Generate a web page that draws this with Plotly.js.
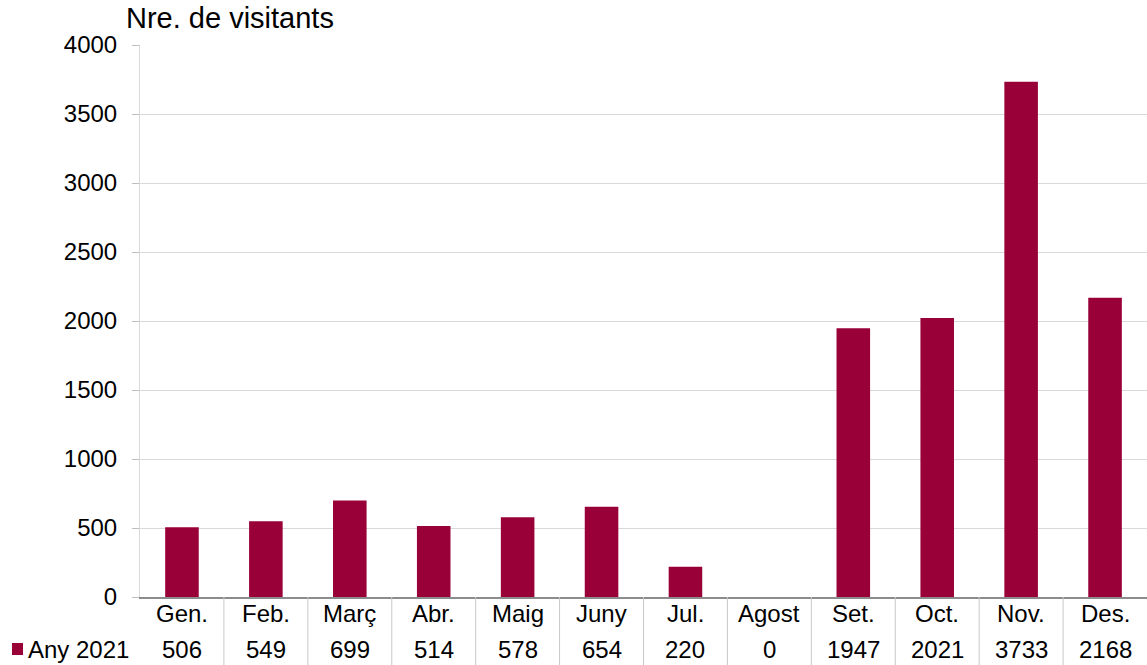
<!DOCTYPE html>
<html>
<head>
<meta charset="utf-8">
<script src="https://cdn.plot.ly/plotly-3.0.1.min.js"></script>
<style>html,body{margin:0;padding:0;background:#fff;}#chart{width:1147px;height:665px;}</style>
</head>
<body>
<div id="chart"></div>
<script>
const months = ["Gen.", "Feb.", "Març", "Abr.", "Maig", "Juny", "Jul.", "Agost", "Set.", "Oct.", "Nov.", "Des."];
const visitors2021 = [506, 549, 699, 514, 578, 654, 220, 0, 1947, 2021, 3733, 2168];
const seriesName = "Any 2021";
const yTitle = "Nre. de visitants";
const yTicks = [0, 500, 1000, 1500, 2000, 2500, 3000, 3500, 4000];

const W = 1147, H = 665;
const mL = 140, mR = 0, mT = 45, mB = 68;
const pw = W - mL - mR, ph = H - mT - mB;
const py = (pix) => (H - mB - pix) / ph;   // page y -> paper y
const px = (pix) => (pix - mL) / pw;       // page x -> paper x

const barColor = "#990038";
const font = "Liberation Sans, Arial, sans-serif";
const fs = 24;
const idx = months.map((m, i) => i);

const annotations = [];
months.forEach((m, i) => {
  annotations.push({x: i, xref: "x", y: py(613), yref: "paper", text: m, showarrow: false,
    xanchor: "center", yanchor: "middle", font: {family: font, size: fs, color: "#000"}});
  annotations.push({x: i, xref: "x", y: py(649), yref: "paper", text: String(visitors2021[i]), showarrow: false,
    xanchor: "center", yanchor: "middle", font: {family: font, size: fs, color: "#000"}});
});
annotations.push({x: px(26), xref: "paper", y: py(649), yref: "paper", text: seriesName, showarrow: false,
  xanchor: "left", yanchor: "middle", font: {family: font, size: fs, color: "#000"}});
annotations.push({x: px(124), xref: "paper", y: py(18), yref: "paper", text: yTitle, showarrow: false,
  xanchor: "left", yanchor: "middle", font: {family: font, size: 29, color: "#000"}});

const shapes = [];
for (let k = 1; k < months.length; k++) {
  shapes.push({type: "line", xref: "x", yref: "paper", x0: k - 0.5, x1: k - 0.5, y0: 0, y1: py(665),
    line: {color: "#c8c8c8", width: 1}});
}
shapes.push({type: "rect", xref: "paper", yref: "paper", x0: px(12), x1: px(23), y0: py(655), y1: py(643),
  fillcolor: barColor, line: {width: 0}});

const data = [{
  type: "bar", x: idx, y: visitors2021, name: seriesName,
  marker: {color: barColor, line: {width: 0}}, width: 0.4, hoverinfo: "skip"
}];

const layout = {
  width: W, height: H,
  margin: {l: mL, r: mR, t: mT, b: mB, pad: 0},
  paper_bgcolor: "#fff", plot_bgcolor: "#fff",
  showlegend: false,
  font: {family: font, size: fs, color: "#000"},
  xaxis: {range: [-0.5, months.length - 0.5], showticklabels: false, ticks: "", showgrid: false,
    zeroline: false, showline: true, linecolor: "#8c8c8c", linewidth: 1.5, fixedrange: true},
  yaxis: {range: [0, 4000], tickvals: yTicks, ticktext: yTicks.map(String), ticks: "outside", ticklen: 7,
    tickcolor: "#bfbfbf", showgrid: true, gridcolor: "#d9d9d9", gridwidth: 1, zeroline: false,
    showline: true, linecolor: "#d9d9d9", ticklabelstandoff: 10,
    tickfont: {family: font, size: fs, color: "#000"}, fixedrange: true},
  annotations: annotations,
  shapes: shapes
};

Plotly.newPlot("chart", data, layout, {displayModeBar: false, staticPlot: true});
</script>
</body>
</html>
